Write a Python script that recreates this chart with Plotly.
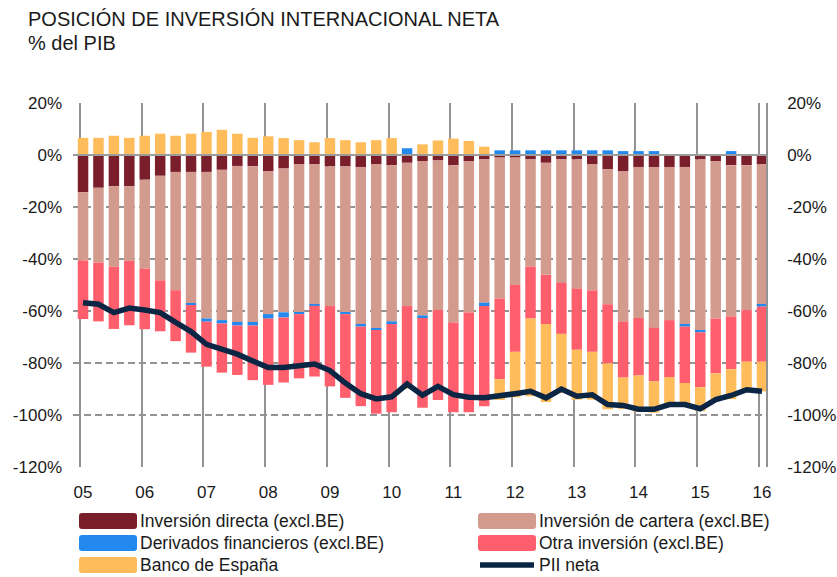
import plotly.graph_objects as go

# Quarterly data 2005Q1 .. 2016Q1 (% of GDP)
quarters = list(range(45))
year_labels = ["05", "06", "07", "08", "09", "10", "11", "12", "13", "14", "15", "16"]
y_ticks = [20, 0, -20, -40, -60, -80, -100, -120]
y_tick_labels = ["20%", "0%", "-20%", "-40%", "-60%", "-80%", "-100%", "-120%"]

inversion_directa = [-14.3, -12.6, -12.0, -12.0, -9.5, -8.0, -6.5, -6.5, -6.5, -5.7, -4.2, -4.3,
                     -6.2, -5.2, -3.6, -3.6, -4.4, -4.4, -4.6, -3.6, -3.9, -3.0, -2.3, -2.1,
                     -3.9, -2.3, -1.7, -1.0, -1.0, -1.7, -3.0, -1.7, -1.7, -3.6, -5.5, -6.2,
                     -4.6, -4.6, -4.6, -4.6, -1.7, -2.3, -3.9, -3.9, -3.6]
inversion_cartera = [-26.3, -28.8, -31.0, -28.7, -34.2, -40.2, -45.5, -50.5, -56.4, -57.8, -60.0, -59.9,
                     -55.0, -55.3, -56.9, -53.8, -53.7, -56.1, -60.4, -63.3, -60.1, -55.1, -59.4, -57.5,
                     -60.5, -58.3, -55.1, -54.2, -48.9, -41.2, -43.1, -47.5, -49.7, -48.5, -51.9, -57.9,
                     -58.1, -61.9, -58.9, -60.7, -65.8, -60.6, -58.2, -55.8, -54.0]
derivados = [0, 0, 0, 0, 0, 0, 0, -0.7, -1.2, -1.3, -1.4, -1.4,
             -1.7, -2.0, -0.7, -0.6, 0, -0.7, -1.0, -0.4, -1.0, 2.6, -1.0, 0,
             0, 0, -1.3, 1.8, 1.8, 1.8, 1.8, 1.8, 1.8, 1.8, 1.8, 1.5,
             1.5, 1.5, 0, -0.7, -0.7, 0, 1.5, 0, -0.7]
otra_inversion = [-22.5, -22.6, -23.9, -24.8, -23.3, -19.6, -19.6, -18.3, -17.3, -18.9, -19.0, -21.0,
                  -25.5, -25.0, -24.7, -27.2, -30.9, -32.2, -30.6, -32.2, -33.9, -31.0, -34.5, -34.6,
                  -34.5, -38.3, -38.5, -31.0, -25.8, -20.0, -18.9, -19.6, -23.5, -23.6, -22.8, -21.5,
                  -22.1, -20.6, -21.9, -21.7, -21.1, -21.1, -20.3, -19.8, -21.2]
banco_espana = [6.6, 6.6, 7.4, 6.6, 7.4, 8.2, 7.4, 8.2, 8.9, 9.7, 8.2, 6.6,
                7.2, 6.5, 5.7, 4.9, 6.5, 5.7, 4.9, 5.7, 6.5, -0.8, 4.1, 5.6,
                6.3, 5.4, 3.2, -8.0, -17.5, -29.9, -30.0, -22.7, -19.2, -18.4, -17.6, -12.1,
                -14.0, -12.0, -10.6, -8.3, -9.2, -10.1, -11.5, -10.5, -11.4]
pii_neta = [-56.8, -57.4, -60.6, -58.9, -59.6, -60.6, -64.4, -67.9, -72.8, -74.5, -76.6, -79.2,
            -81.7, -81.7, -81.2, -80.4, -82.9, -87.7, -91.8, -93.8, -93.0, -88.1, -92.4, -89.0,
            -92.2, -93.2, -93.4, -92.8, -91.8, -90.9, -93.4, -90.0, -92.8, -92.2, -96.0, -96.3,
            -97.8, -97.8, -96.0, -96.0, -97.6, -94.1, -92.5, -90.3, -90.9]

bar_series = [
    ("Inversión directa (excl.BE)", inversion_directa, "#7A1E2B"),
    ("Inversión de cartera (excl.BE)", inversion_cartera, "#D39A8E"),
    ("Derivados financieros (excl.BE)", derivados, "#2389EE"),
    ("Otra inversión (excl.BE)", otra_inversion, "#FF5E6C"),
    ("Banco de España", banco_espana, "#FFBC5A"),
]
line_name, line_color = "PII neta", "#0B2545"
title_lines = ["POSICIÓN DE INVERSIÓN INTERNACIONAL NETA", "% del PIB"]

FONT = "Liberation Sans"
TXT = "#1a1a1a"
GRID = "#939393"

fig = go.Figure()
for name, vals, col in bar_series:
    fig.add_trace(go.Bar(x=quarters, y=vals, name=name, marker=dict(color=col, line=dict(width=0)),
                         showlegend=False))
fig.add_trace(go.Scatter(x=quarters, y=pii_neta, name=line_name, mode="lines",
                         line=dict(color=line_color, width=5.5), yaxis="y2", showlegend=False))

year_pos = [4 * k for k in range(len(year_labels))]

fig.update_layout(
    width=837, height=577,
    margin=dict(l=73, r=71, t=103, b=110),
    paper_bgcolor="white", plot_bgcolor="white",
    barmode="relative", bargap=0.32,
    font=dict(family=FONT, color=TXT, size=17),
    xaxis=dict(range=[-0.65, 44.26], tickmode="array", tickvals=year_pos, ticktext=year_labels,
               showgrid=False, zeroline=False, showline=False, ticks="", automargin=False,
               ticklabelstandoff=13, tickfont=dict(size=17, color=TXT),
               minor=dict(tickmode="array", tickvals=[p - 0.2 for p in year_pos], showgrid=True,
                          gridcolor=GRID, gridwidth=1.5, ticks="")),
    yaxis=dict(range=[-120, 20], tickmode="array", tickvals=y_ticks, ticktext=y_tick_labels,
               showgrid=True, gridcolor=GRID, gridwidth=1.5, griddash="7px,4px",
               zeroline=False, showline=False, ticks="", ticklabelstandoff=10, automargin=False,
               tickfont=dict(size=17, color=TXT)),
    yaxis2=dict(range=[-120, 20], overlaying="y", side="right", tickmode="array",
                tickvals=y_ticks, ticktext=y_tick_labels, showgrid=False, zeroline=False,
                showline=True, linecolor=GRID, linewidth=1.5, ticks="", ticklabelstandoff=16,
                automargin=False, tickfont=dict(size=17, color=TXT)),
)

# zero line above bars
fig.add_shape(type="line", xref="paper", x0=0, x1=1, yref="y", y0=0, y1=0,
              line=dict(color="#9c9c9c", width=1.8), layer="above")

PL, PW, PB, PH = 73, 693, 467, 364
def px_x(p):
    return (p - PL) / PW
def px_y(p):
    return (PB - p) / PH

def rounded_rect(x0, y0, x1, y1, r):
    # pixel coordinates -> paper path with rounded corners
    X = lambda v: f"{px_x(v):.5f}"
    Y = lambda v: f"{px_y(v):.5f}"
    return (f"M {X(x0 + r)},{Y(y0)} L {X(x1 - r)},{Y(y0)} Q {X(x1)},{Y(y0)} {X(x1)},{Y(y0 + r)} "
            f"L {X(x1)},{Y(y1 - r)} Q {X(x1)},{Y(y1)} {X(x1 - r)},{Y(y1)} "
            f"L {X(x0 + r)},{Y(y1)} Q {X(x0)},{Y(y1)} {X(x0)},{Y(y1 - r)} "
            f"L {X(x0)},{Y(y0 + r)} Q {X(x0)},{Y(y0)} {X(x0 + r)},{Y(y0)} Z")

# title (two lines)
for txt, cy in zip(title_lines, [19, 43]):
    fig.add_annotation(text=txt, xref="paper", yref="paper", x=px_x(26), y=px_y(cy),
                       xanchor="left", yanchor="middle", showarrow=False,
                       font=dict(family=FONT, size=20, color=TXT))

# manual legend (two columns, three rows)
legend_items = [(n, c, "bar") for n, _, c in bar_series] + [(line_name, line_color, "line")]
order = [0, 2, 4, 1, 3, 5]  # column-major placement
positions = [(79, 521), (79, 543), (79, 565), (478, 521), (478, 543), (478, 565)]
for idx, (px, py) in zip(order, positions):
    name, col, kind = legend_items[idx]
    if kind == "bar":
        fig.add_shape(type="path", xref="paper", yref="paper",
                      path=rounded_rect(px, py - 8, px + 58, py + 8, 3),
                      fillcolor=col, line=dict(width=0))
    else:
        fig.add_shape(type="line", xref="paper", yref="paper",
                      x0=px_x(px + 2), x1=px_x(px + 56), y0=px_y(py), y1=px_y(py),
                      line=dict(color=col, width=5.5))
    fig.add_annotation(text=name, xref="paper", yref="paper", x=px_x(px + 59), y=px_y(py),
                       xanchor="left", yanchor="middle", showarrow=False,
                       font=dict(family=FONT, size=17.5, color=TXT))

fig.write_html("out.html", config={"displayModeBar": False},
               post_script="document.body.style.margin='0';")
